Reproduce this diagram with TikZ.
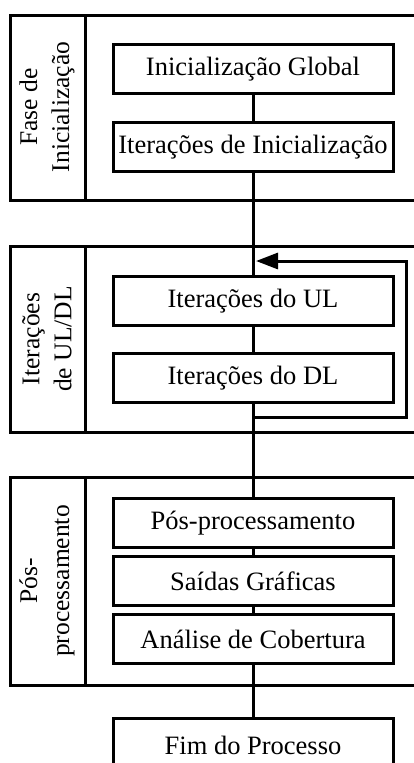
\documentclass[tikz,border=0pt]{standalone}
\usepackage{fontspec}
\setmainfont{Liberation Serif}
\usetikzlibrary{arrows.meta, positioning}

\begin{document}
\begin{tikzpicture}[
    x=1pt, y=-1pt,
    box/.style={draw, line width=3pt, minimum width=280pt, minimum height=49pt,
                inner sep=0pt, outer sep=0pt, text centered,
                font=\fontsize{26.5}{30}\selectfont},
    phase/.style={rotate=90, align=center, inner sep=0pt,
                  font=\fontsize{25.5}{32}\selectfont},
    frame/.style={line width=3pt},
    link/.style={line width=3pt},
    >={Triangle[length=22pt, width=16pt]},
    node distance=29pt
  ]
  \clip (0,0) rectangle (414,763);
  \fill[white] (0,0) rectangle (414,763);

  % Phase frames
  \draw[frame] (10,15) rectangle (440,200) (85,15) -- (85,200);
  \draw[frame] (10,246) rectangle (440,432) (85,246) -- (85,432);
  \draw[frame] (10,477) rectangle (440,685) (85,477) -- (85,685);

  % Phase labels
  \node[phase] (lblinit) at (47,107) {Fase de\\Inicialização};
  \node[phase] (lbliter) at (47,339) {Iterações\\de UL/DL};
  \node[phase] (lblpos) at (47,581) {Pós-\\processamento};

  % Steps
  \node[box] (glob) at (253,69) {Inicialização Global};
  \node[box, below=of glob] (iinit) {Iterações de Inicialização};
  \node[box, below=105pt of iinit] (ul) {Iterações do UL};
  \node[box, below=28pt of ul] (dl) {Iterações do DL};
  \node[box, below=96pt of dl] (pos) {Pós-processamento};
  \node[box, below=9pt of pos] (graf) {Saídas Gráficas};
  \node[box, below=9pt of graf] (cob) {Análise de Cobertura};
  \node[box, minimum height=54pt, below=55pt of cob] (fim) {Fim do Processo};

  % Connectors
  \draw[link] (glob) -- (iinit);
  \draw[link] (iinit) -- (ul);
  \draw[link] (ul) -- (dl);
  \draw[link] (dl) -- (pos);
  \draw[link] (pos) -- (graf);
  \draw[link] (graf) -- (cob);
  \draw[link] (cob) -- (fim);

  % Feedback loop
  \coordinate (loopout) at (253,417);
  \coordinate (loopin) at (256,261);
  \draw[link, ->] (loopout) -| (406,261) -- (loopin);
\end{tikzpicture}
\end{document}
